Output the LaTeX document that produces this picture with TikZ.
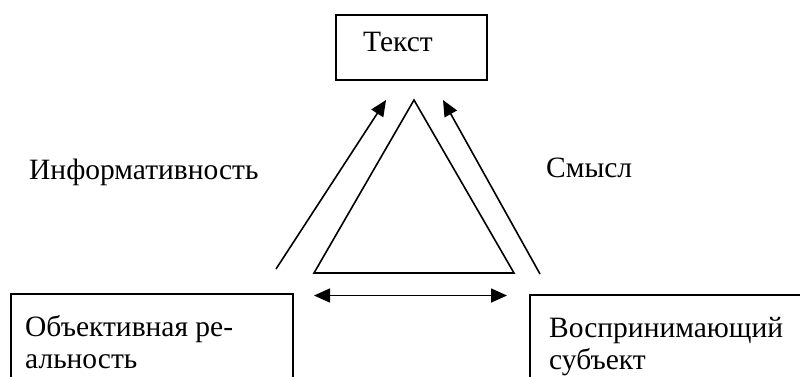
\documentclass[tikz,border=0pt]{standalone}
\usepackage{fontspec}
\setmainfont{Liberation Serif}
\usetikzlibrary{arrows.meta}
\begin{document}
\begin{tikzpicture}[x=1pt,y=-1pt,
  frame/.style={draw,line width=2pt,inner sep=0pt,anchor=north west},
  caption/.style={inner sep=0pt,anchor=base west,align=left,
    font={\fontsize{29.5}{32}\selectfont}},
  link/.style={line width=1.6pt,-{Triangle[length=16pt,width=14pt]}},
  both/.style={line width=1.6pt,{Triangle[length=16pt,width=14pt]}-{Triangle[length=16pt,width=14pt]}},
  edge/.style={line width=1.6pt,line join=miter},
]
\useasboundingbox (0,0) rectangle (800,376);
\clip (0,0) rectangle (800,376);

% boxes
\node[frame,minimum width=151pt,minimum height=65pt] (textbox) at (335,14) {};
\node[frame,minimum width=282pt,minimum height=140pt] (objbox) at (10,293) {};
\node[frame,minimum width=300pt,minimum height=140pt] (subjbox) at (529,294) {};

% box captions (base anchor sits on the last line)
\node[caption] (textlbl) at (363,51) {Текст};
\node[caption] (objlbl) at (25,368.5) {Объективная ре-\\альность};
\node[caption] (subjlbl) at (549,369) {Воспринимающий\\субъект};

% side labels
\node[caption] (infolbl) at (29,179) {Информативность};
\node[caption] (senselbl) at (546,177) {Смысл};

% central triangle
\coordinate (apex) at (414,100);
\coordinate (bright) at (514,273);
\coordinate (bleft) at (314,273);
\draw[edge] (apex) -- (bright) -- (bleft) -- cycle;

% arrows
\coordinate (l0) at (276,269);
\coordinate (l1) at (386,100);
\coordinate (r0) at (540,274);
\coordinate (r1) at (443,100);
\coordinate (h0) at (314,295.5);
\coordinate (h1) at (507,295.5);
\draw[link] (l0) -- (l1);
\draw[link] (r0) -- (r1);
\draw[both] (h0) -- (h1);
\end{tikzpicture}
\end{document}
